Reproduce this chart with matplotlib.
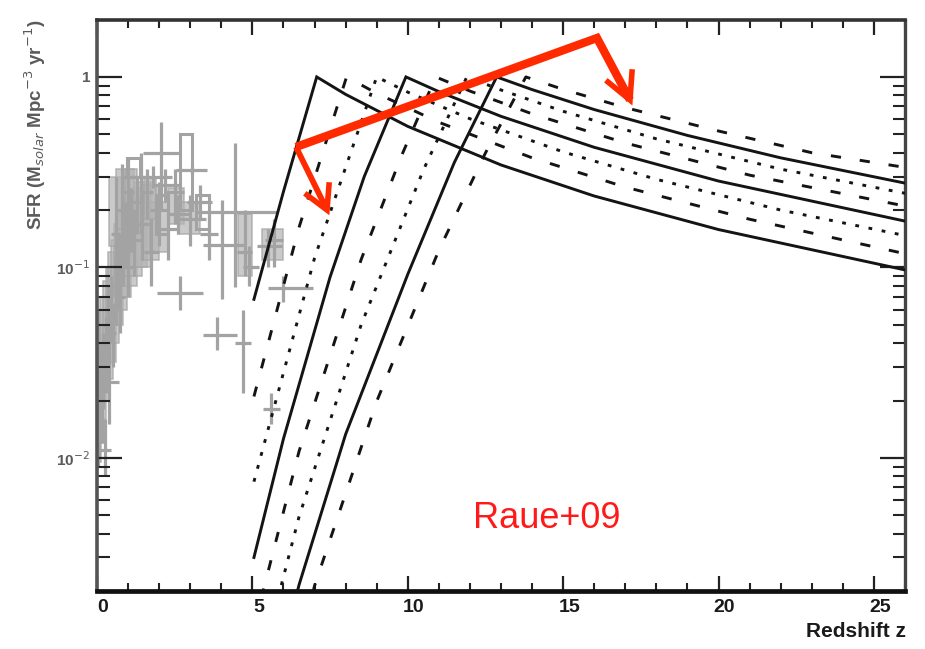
import matplotlib
matplotlib.use('Agg')
import matplotlib.pyplot as plt
import matplotlib.transforms as mtransforms
from matplotlib.lines import Line2D
from matplotlib.patches import Rectangle
from matplotlib.ticker import FixedLocator, FixedFormatter, LogLocator, NullFormatter, MultipleLocator

# ---------------- data ----------------
# Pop-III style SFR model curves (solid / dashed / dotted families)
c0_z = [5.05, 6.0, 7.07, 8.0, 10.0, 13.0, 16.0, 20.0, 26.0]
c0_sfr = [0.068, 0.25, 1.0, 0.81, 0.55, 0.345, 0.237, 0.158, 0.097]

c1_z = [5.05, 6.5, 8.03, 9.0, 11.0, 14.0, 17.0, 21.0, 26.0]
c1_sfr = [0.021, 0.162, 1.0, 0.82, 0.578, 0.376, 0.264, 0.179, 0.118]

c2_z = [5.05, 7.0, 9.0, 10.0, 12.0, 15.0, 18.0, 22.0, 26.0]
c2_sfr = [0.0075, 0.112, 1.0, 0.832, 0.603, 0.404, 0.29, 0.2, 0.147]

c3_z = [5.05, 6.0, 7.5, 8.6, 9.94, 11.0, 13.0, 16.0, 20.0, 26.0]
c3_sfr = [0.0030, 0.0126, 0.089, 0.30, 1.0, 0.837, 0.621, 0.427, 0.284, 0.175]

c4_z = [5.05, 6.5, 8.5, 9.8, 10.9, 12.0, 14.0, 17.0, 21.0, 26.0]
c4_sfr = [0.0013, 0.0108, 0.110, 0.386, 1.0, 0.843, 0.64, 0.45, 0.305, 0.21]

c5_z = [5.05, 6.5, 8.5, 10.5, 11.9, 13.0, 15.0, 18.0, 22.0, 26.0]
c5_sfr = [0.0006, 0.0049, 0.050, 0.324, 1.0, 0.854, 0.66, 0.473, 0.328, 0.245]

c6_z = [5.05, 6.5, 8.0, 10.0, 11.5, 12.86, 14.0, 16.0, 19.0, 22.0, 26.0]
c6_sfr = [0.00025, 0.00215, 0.0133, 0.092, 0.356, 1.0, 0.858, 0.674, 0.493, 0.376, 0.277]

c7_z = [5.05, 7.0, 9.0, 11.0, 12.5, 13.8, 15.0, 17.0, 20.0, 23.0, 26.0]
c7_sfr = [0.0001, 0.00213, 0.0198, 0.123, 0.399, 1.0, 0.86, 0.69, 0.52, 0.40, 0.335]

curve_z = [c0_z, c1_z, c2_z, c3_z, c4_z, c5_z, c6_z, c7_z]
curve_sfr = [c0_sfr, c1_sfr, c2_sfr, c3_sfr, c4_sfr, c5_sfr, c6_sfr, c7_sfr]
curve_kind = ['solid', 'dashed', 'dotted', 'solid', 'dashed', 'dotted', 'solid', 'dashed']

# measured cosmic SFR compilation (grey crosses)
obs_z = [0.02, 0.05, 0.1, 0.15, 0.2, 0.3, 0.35, 0.45, 0.5, 0.6, 0.7, 0.75, 0.85, 0.9,
         1.0, 1.1, 1.2, 1.3, 1.45, 1.6, 1.75, 2.0, 2.07, 2.3, 2.5, 2.67, 3.0, 3.05,
         3.3, 3.6, 4.44, 4.02, 3.86, 4.75, 4.7, 5.5, 5.6, 6.0, 0.6, 0.8, 1.0, 1.4,
         2.2, 1.8, 2.6, 4.9, 5.7, 0.25, 0.4]
obs_sfr = [0.014, 0.018, 0.022, 0.017, 0.03, 0.035, 0.05, 0.06, 0.045, 0.08, 0.10, 0.07, 0.12, 0.15,
           0.10, 0.18, 0.14, 0.22, 0.17, 0.25, 0.12, 0.20, 0.40, 0.16, 0.25, 0.0735, 0.18, 0.325,
           0.22, 0.15, 0.195, 0.131, 0.044, 0.12, 0.04, 0.13, 0.018, 0.078, 0.15, 0.2, 0.25, 0.3,
           0.27, 0.30, 0.19, 0.10, 0.14, 0.011, 0.025]
obs_dz_lo = [0.02, 0.05, 0.1, 0.05, 0.1, 0.1, 0.15, 0.1, 0.1, 0.1, 0.1, 0.15, 0.15, 0.1,
             0.2, 0.15, 0.2, 0.2, 0.25, 0.2, 0.25, 0.3, 0.6, 0.3, 0.3, 0.75, 0.5, 0.5,
             0.4, 0.3, 1.29, 0.6, 0.45, 0.25, 0.25, 0.35, 0.25, 0.5, 0.15, 0.2, 0.2, 0.3,
             0.4, 1.0, 0.3, 0.2, 0.3, 0.2, 0.3]
obs_dz_hi = [0.02, 0.05, 0.1, 0.05, 0.1, 0.1, 0.15, 0.1, 0.1, 0.1, 0.1, 0.15, 0.15, 0.1,
             0.2, 0.15, 0.2, 0.2, 0.25, 0.2, 0.25, 0.3, 0.6, 0.3, 0.3, 0.75, 0.5, 0.5,
             0.4, 0.3, 1.35, 0.75, 0.65, 0.25, 0.25, 0.45, 0.3, 0.95, 0.15, 0.2, 0.2, 0.3,
             0.5, 0.6, 0.4, 0.3, 0.3, 0.2, 0.3]
obs_sfr_lo = [0.009, 0.010, 0.012, 0.012, 0.018, 0.022, 0.03, 0.04, 0.03, 0.05, 0.06, 0.045, 0.08, 0.10,
              0.07, 0.12, 0.09, 0.15, 0.11, 0.18, 0.08, 0.13, 0.20, 0.11, 0.17, 0.06, 0.13, 0.31,
              0.18, 0.11, 0.079, 0.068, 0.037, 0.09, 0.022, 0.10, 0.015, 0.066, 0.07, 0.1, 0.12, 0.15,
              0.22, 0.26, 0.15, 0.08, 0.10, 0.008, 0.015]
obs_sfr_hi = [0.02, 0.03, 0.04, 0.025, 0.045, 0.055, 0.08, 0.09, 0.065, 0.12, 0.15, 0.10, 0.18, 0.22,
              0.15, 0.26, 0.20, 0.30, 0.25, 0.33, 0.18, 0.28, 0.58, 0.22, 0.33, 0.09, 0.24, 0.34,
              0.27, 0.20, 0.45, 0.226, 0.055, 0.20, 0.06, 0.16, 0.022, 0.09, 0.3, 0.35, 0.38, 0.4,
              0.33, 0.34, 0.24, 0.13, 0.18, 0.016, 0.04]

# open error boxes
box_z_lo = [2.67, 0.96, 1.9, 3.2]
box_z_hi = [3.05, 1.38, 2.3, 3.6]
box_sfr_lo = [0.20, 0.30, 0.15, 0.16]
box_sfr_hi = [0.50, 0.376, 0.24, 0.24]

# filled error boxes (dense low-redshift measurements)
fbox_z_lo = [0.0, 0.0, 0.0, 0.05, 0.1, 0.2, 0.3, 0.35, 0.45, 0.55, 0.7, 0.85, 1.0, 1.2, 1.45, 0.4, 0.6,
             1.7, 4.55, 5.3, 0.9, 1.5, 2.3, 2.6]
fbox_z_hi = [0.12, 0.2, 0.3, 0.4, 0.5, 0.6, 0.7, 0.85, 0.95, 1.1, 1.3, 1.45, 1.6, 1.75, 2.0, 1.0, 1.2,
             2.3, 5.0, 6.0, 1.3, 1.9, 2.8, 3.3]
fbox_sfr_lo = [0.0095, 0.012, 0.016, 0.02, 0.026, 0.032, 0.04, 0.05, 0.06, 0.07, 0.08, 0.09, 0.10, 0.10, 0.11,
               0.13, 0.16, 0.12, 0.09, 0.11, 0.20, 0.18, 0.17, 0.15]
fbox_sfr_hi = [0.03, 0.04, 0.05, 0.06, 0.07, 0.085, 0.10, 0.12, 0.14, 0.17, 0.2, 0.23, 0.26, 0.28, 0.27,
               0.3, 0.33, 0.22, 0.19, 0.16, 0.33, 0.30, 0.26, 0.22]

x_ticks = [0, 5, 10, 15, 20, 25]
y_ticks = [1e-2, 1e-1, 1]
y_ticklabels = ['10$^{-2}$', '10$^{-1}$', '1']

# ---------------- figure ----------------
W, H = 925, 649
fig = plt.figure(figsize=(W / 100, H / 100), dpi=100)
fig.patch.set_facecolor('white')
ax = fig.add_axes([97 / W, 1 - 591 / H, (905 - 97) / W, (591 - 20) / H])
ax.set_yscale('log')
ax.set_xlim(0, 26)
ax.set_ylim(0.002, 1.99)

grey = '#a3a3a3'
for zl, zh, sl, sh in zip(fbox_z_lo, fbox_z_hi, fbox_sfr_lo, fbox_sfr_hi):
    ax.add_patch(Rectangle((zl, sl), zh - zl, sh - sl, facecolor='#b4b4b4',
                           edgecolor='#a4a4a4', lw=1.2, alpha=0.7, zorder=1))
ax.errorbar(obs_z, obs_sfr,
            xerr=[obs_dz_lo, obs_dz_hi],
            yerr=[[s - l for s, l in zip(obs_sfr, obs_sfr_lo)],
                  [h - s for s, h in zip(obs_sfr, obs_sfr_hi)]],
            fmt='none', ecolor=grey, elinewidth=2.3, capsize=0, zorder=1.5)
for zl, zh, sl, sh in zip(box_z_lo, box_z_hi, box_sfr_lo, box_sfr_hi):
    ax.add_patch(Rectangle((zl, sl), zh - zl, sh - sl, fill=False,
                           edgecolor=grey, lw=2.2, zorder=1.5))

styles = {'solid': '-', 'dashed': (0, (3.5, 6.5)), 'dotted': (0, (1.3, 3.3))}
for zz, ss, kind in zip(curve_z, curve_sfr, curve_kind):
    ax.plot(zz, ss, ls=styles[kind], color='#141414', lw=2.1, zorder=3,
            dash_capstyle='butt', solid_joinstyle='miter')

# axes styling
for side, lw, col in [('left', 2.6, '#555555'), ('bottom', 3.4, '#111111'),
                      ('top', 2.6, '#333333'), ('right', 2.4, '#444444')]:
    ax.spines[side].set_linewidth(lw)
    ax.spines[side].set_color(col)

ax.xaxis.set_major_locator(FixedLocator(x_ticks))
ax.xaxis.set_minor_locator(MultipleLocator(1))
ax.yaxis.set_major_locator(FixedLocator(y_ticks))
ax.yaxis.set_major_formatter(FixedFormatter(y_ticklabels))
ax.yaxis.set_minor_locator(LogLocator(base=10, subs=[2, 3, 4, 5, 6, 7, 8, 9]))
ax.yaxis.set_minor_formatter(NullFormatter())

ax.tick_params(which='both', direction='in', top=True, right=True, color='#222222')
ax.tick_params(axis='x', which='major', length=11, width=1.6, pad=6,
               labelsize=14)
ax.tick_params(axis='x', which='minor', length=6, width=1.5)
ax.tick_params(axis='y', which='major', length=18, width=1.6, pad=5,
               labelsize=11, labelcolor='#5a5a5a')
ax.tick_params(axis='y', which='minor', length=9, width=1.5)

for lab in ax.get_xticklabels():
    lab.set_fontfamily('Liberation Sans')
    lab.set_fontweight('bold')
    lab.set_color('#1a1a1a')
    lab.set_transform(lab.get_transform() +
                      mtransforms.ScaledTranslation(6 / 100, 0, fig.dpi_scale_trans))
for lab in ax.get_yticklabels():
    lab.set_fontfamily('Liberation Sans')
    lab.set_fontweight('bold')

fig.text(35 / W, 1 - 20 / H, 'SFR (M$_{solar}$ Mpc$^{-3}$ yr$^{-1}$)', rotation=90,
         ha='center', va='top', fontsize=13.5, color='#5a5a5a', fontweight='bold',
         family='Liberation Sans')
fig.text(906 / W, 1 - 637 / H, 'Redshift z', ha='right', va='baseline', fontsize=15,
         fontweight='bold', color='#1a1a1a', family='Liberation Sans')
fig.text(473 / W, 1 - 528 / H, 'Raue+09', ha='left', va='baseline', fontsize=26,
         color='#ff1a1a', family='Liberation Sans')

# red annotation arrows (pixel positions on the figure)
def fx(x):
    return x / W

def fy(y):
    return 1 - y / H

red = '#ff2a00'
fig.add_artist(Line2D([fx(296), fx(597), fx(630)], [fy(147), fy(38), fy(100)],
                      color=red, lw=6.0, solid_joinstyle='miter', solid_capstyle='butt',
                      transform=fig.transFigure, zorder=10))
fig.add_artist(Line2D([fx(608), fx(630), fx(632)], [fy(82), fy(100), fy(72)],
                      color=red, lw=4.0, solid_joinstyle='miter', solid_capstyle='projecting',
                      transform=fig.transFigure, zorder=10))
fig.add_artist(Line2D([fx(296), fx(327)], [fy(147), fy(210)],
                      color=red, lw=4.2, solid_capstyle='butt',
                      transform=fig.transFigure, zorder=10))
fig.add_artist(Line2D([fx(307), fx(327), fx(329)], [fy(195), fy(210), fy(185)],
                      color=red, lw=4.0, solid_joinstyle='miter', solid_capstyle='projecting',
                      transform=fig.transFigure, zorder=10))

fig.savefig('out.png', dpi=100, facecolor='white')
